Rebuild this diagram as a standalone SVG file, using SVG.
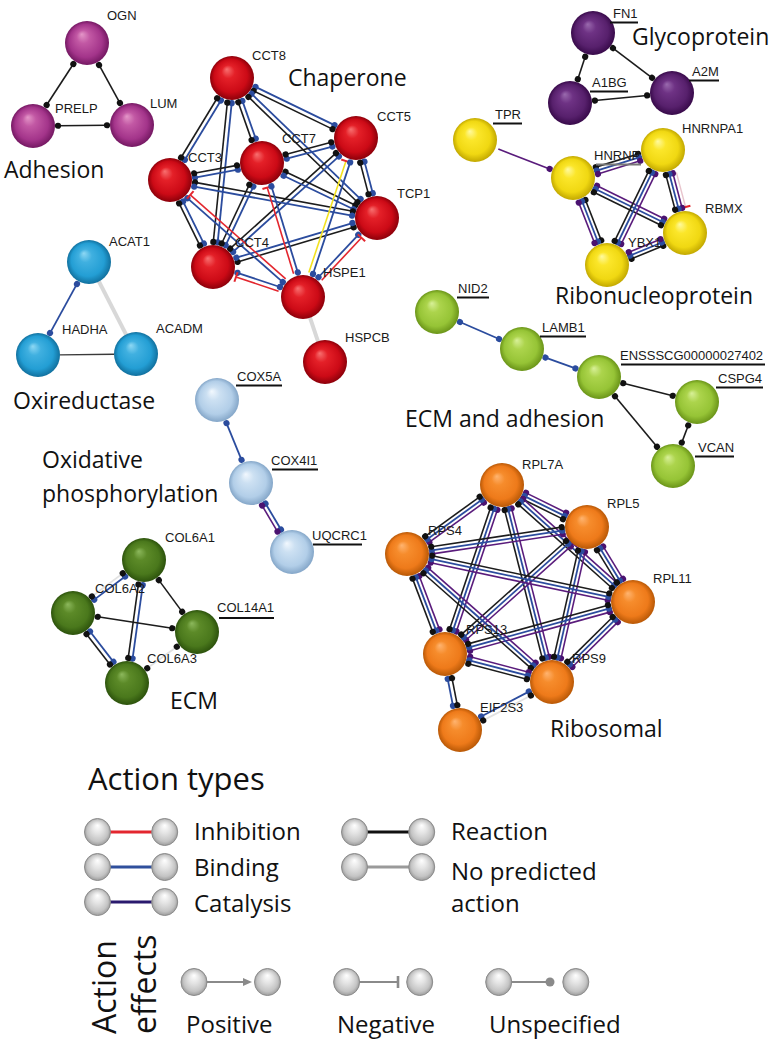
<svg xmlns="http://www.w3.org/2000/svg" width="780" height="1046" viewBox="0 0 780 1046">
<defs>
<style>
.k{stroke:#1c1c1c;stroke-width:1.6;marker-start:url(#mk);marker-end:url(#mk)}
.b{stroke:#2b4c9e;stroke-width:1.8;marker-start:url(#mb);marker-end:url(#mb)}
.p{stroke:#5a1c7c;stroke-width:1.6;marker-start:url(#mp);marker-end:url(#mp)}
.r{stroke:#e3262e;stroke-width:1.6;marker-end:url(#tr)}
.y{stroke:#f2e11e;stroke-width:1.6;marker-end:url(#tr)}
.g{stroke:#d8d8d8;stroke-width:4}
.t{stroke:#3a3a3a;stroke-width:1.3}
.lg{stroke:#e2e2e2;stroke-width:1.8;marker-start:url(#mk);marker-end:url(#mk)}
.pk{stroke:#e8c4cc;stroke-width:1.4;marker-end:url(#tr)}
.ns{marker-start:none}
.lbl{font-family:"Liberation Sans",Arial,sans-serif;font-size:13px;fill:#1a1a1a}
.cl{font-family:"Open Sans","Noto Sans",sans-serif;font-size:23px;fill:#111}
.lg2{font-family:"Open Sans","Noto Sans",sans-serif;font-size:24px;fill:#111}
.ul{stroke:#111;stroke-width:2}
.mag{fill:url(#gMag)}.red{fill:url(#gRed)}.pur{fill:url(#gPur)}.yel{fill:url(#gYel)}
.cya{fill:url(#gCya)}.lgr{fill:url(#gLgr)}.lbl2{fill:url(#gLbl)}.dgr{fill:url(#gDgr)}.ora{fill:url(#gOra)}
.gb{fill:url(#gGray);stroke:#8c8c8c;stroke-width:1}
</style>
<marker id="mk" viewBox="-4 -4 8 8" markerWidth="8" markerHeight="8" markerUnits="userSpaceOnUse"><circle r="3.1" fill="#111"/></marker>
<marker id="mb" viewBox="-4 -4 8 8" markerWidth="8" markerHeight="8" markerUnits="userSpaceOnUse"><circle r="3.1" fill="#2b4c9e"/></marker>
<marker id="mp" viewBox="-4 -4 8 8" markerWidth="8" markerHeight="8" markerUnits="userSpaceOnUse"><circle r="3.1" fill="#4a1270"/></marker>
<marker id="tr" viewBox="-2 -6 4 12" markerWidth="4" markerHeight="12" markerUnits="userSpaceOnUse" orient="auto"><line x1="0" y1="-5" x2="0" y2="5" stroke="#e3262e" stroke-width="2"/></marker>
<radialGradient id="gMag" cx="0.5" cy="0.5" r="0.5" fx="0.38" fy="0.3"><stop offset="0" stop-color="#e496c8"/><stop offset="0.3" stop-color="#c258a4"/><stop offset="0.75" stop-color="#a3348a"/><stop offset="1" stop-color="#741862"/></radialGradient>
<radialGradient id="gRed" cx="0.5" cy="0.5" r="0.5" fx="0.38" fy="0.3"><stop offset="0" stop-color="#f87070"/><stop offset="0.3" stop-color="#e42028"/><stop offset="0.75" stop-color="#cc0a16"/><stop offset="1" stop-color="#8c000a"/></radialGradient>
<radialGradient id="gPur" cx="0.5" cy="0.5" r="0.5" fx="0.38" fy="0.3"><stop offset="0" stop-color="#9a6aae"/><stop offset="0.3" stop-color="#6e3284"/><stop offset="0.75" stop-color="#57206c"/><stop offset="1" stop-color="#380a4a"/></radialGradient>
<radialGradient id="gYel" cx="0.5" cy="0.5" r="0.5" fx="0.38" fy="0.3"><stop offset="0" stop-color="#fffaa0"/><stop offset="0.3" stop-color="#fbe62a"/><stop offset="0.75" stop-color="#f0d812"/><stop offset="1" stop-color="#c2a800"/></radialGradient>
<radialGradient id="gCya" cx="0.5" cy="0.5" r="0.5" fx="0.38" fy="0.3"><stop offset="0" stop-color="#8ed8f4"/><stop offset="0.3" stop-color="#40b0e0"/><stop offset="0.75" stop-color="#239ed4"/><stop offset="1" stop-color="#11709e"/></radialGradient>
<radialGradient id="gLgr" cx="0.5" cy="0.5" r="0.5" fx="0.38" fy="0.3"><stop offset="0" stop-color="#d8f098"/><stop offset="0.3" stop-color="#acd44c"/><stop offset="0.75" stop-color="#96c436"/><stop offset="1" stop-color="#6a9418"/></radialGradient>
<radialGradient id="gLbl" cx="0.5" cy="0.5" r="0.5" fx="0.38" fy="0.3"><stop offset="0" stop-color="#f2f8fe"/><stop offset="0.3" stop-color="#cce0f2"/><stop offset="0.75" stop-color="#b2cee8"/><stop offset="1" stop-color="#84a6c8"/></radialGradient>
<radialGradient id="gDgr" cx="0.5" cy="0.5" r="0.5" fx="0.38" fy="0.3"><stop offset="0" stop-color="#8cb85c"/><stop offset="0.3" stop-color="#5c8a28"/><stop offset="0.75" stop-color="#4a781c"/><stop offset="1" stop-color="#2c520c"/></radialGradient>
<radialGradient id="gOra" cx="0.5" cy="0.5" r="0.5" fx="0.38" fy="0.3"><stop offset="0" stop-color="#ffb470"/><stop offset="0.3" stop-color="#f68c2c"/><stop offset="0.75" stop-color="#ee7a1a"/><stop offset="1" stop-color="#b85806"/></radialGradient>
<radialGradient id="gGray" cx="0.5" cy="0.5" r="0.5" fx="0.5" fy="0.25"><stop offset="0" stop-color="#ffffff"/><stop offset="0.4" stop-color="#e4e4e4"/><stop offset="0.8" stop-color="#c4c4c4"/><stop offset="1" stop-color="#9c9c9c"/></radialGradient>
</defs>
<rect width="780" height="1046" fill="#ffffff"/>

<g id="connectors" fill="none">
<!-- Adhesion -->
<g transform="translate(87 43) rotate(123.05)"><line class="k" x1="25" y1="0" x2="74" y2="0"/></g>
<g transform="translate(87 43) rotate(61.24)"><line class="k" x1="25" y1="0" x2="68.5" y2="0"/></g>
<g transform="translate(33 126) rotate(-0.58)"><line class="k" x1="25" y1="0" x2="74" y2="0"/></g>
<!-- Glycoprotein -->
<g transform="translate(593 33) rotate(108.19)"><line class="k" x1="25" y1="0" x2="48.7" y2="0"/></g>
<g transform="translate(593 33) rotate(37.22)"><line class="k" x1="25" y1="0" x2="74.2" y2="0"/></g>
<g transform="translate(570 103) rotate(-5.6)"><line class="k" x1="25" y1="0" x2="77.5" y2="0"/></g>
<!-- Oxireductase -->
<g transform="translate(89 262) rotate(118.74)"><line class="b" x1="25" y1="0" x2="81.1" y2="0"/></g>
<g transform="translate(89 262) rotate(62.94)"><line class="g" x1="20" y1="0" x2="83.3" y2="0"/></g>
<g transform="translate(38 355) rotate(-0.58)"><line class="t" x1="22" y1="0" x2="76" y2="0"/></g>
<!-- ECM and adhesion -->
<g transform="translate(437 312) rotate(23.52)"><line class="b" x1="25" y1="0" x2="67.7" y2="0"/></g>
<g transform="translate(522 349) rotate(19.98)"><line class="b" x1="25" y1="0" x2="56.9" y2="0"/></g>
<g transform="translate(599 377) rotate(14.31)"><line class="k" x1="25" y1="0" x2="76.1" y2="0"/></g>
<g transform="translate(599 377) rotate(50.26)"><line class="k" x1="25" y1="0" x2="90.7" y2="0"/></g>
<g transform="translate(697 402) rotate(110.56)"><line class="k" x1="25" y1="0" x2="43.4" y2="0"/></g>
<!-- Oxidative phosphorylation -->
<g transform="translate(217 400) rotate(67.72)"><line class="b" x1="25" y1="0" x2="64.7" y2="0"/></g>
<g transform="translate(251 483) rotate(59.28)"><line class="b" x1="25" y1="-2" x2="55.3" y2="-2"/><line class="p" x1="25" y1="2" x2="55.3" y2="2"/></g>
<!-- ECM -->
<g transform="translate(144 560) rotate(143.26)"><line class="b" x1="25" y1="-2" x2="63.6" y2="-2"/><line class="lg" x1="25" y1="2" x2="63.6" y2="2"/></g>
<g transform="translate(144 560) rotate(53.64)"><line class="k" x1="25" y1="0" x2="64.4" y2="0"/></g>
<g transform="translate(144 560) rotate(97.87)"><line class="b" x1="25" y1="-2.2" x2="99.2" y2="-2.2"/><line class="k" x1="25" y1="2.2" x2="99.2" y2="2.2"/></g>
<g transform="translate(73 613) rotate(8.71)"><line class="k" x1="25" y1="0" x2="100.4" y2="0"/></g>
<g transform="translate(73 613) rotate(52.35)"><line class="b" x1="25" y1="-2.2" x2="63.4" y2="-2.2"/><line class="k" x1="25" y1="2.2" x2="63.4" y2="2.2"/></g>
<g transform="translate(197 632) rotate(143.93)"><line class="lg" x1="25" y1="0" x2="61.6" y2="0"/></g>
<!-- Ribonucleoprotein -->
<g transform="translate(475 140) rotate(21.19)"><line class="p ns" x1="25" y1="0" x2="80.1" y2="0"/></g>
<g transform="translate(573 178) rotate(-17.28)"><line class="k" x1="25" y1="-3.6" x2="69.3" y2="-3.6"/><line class="b" x1="25" y1="0" x2="69.3" y2="0"/><line class="p" x1="25" y1="3.6" x2="69.3" y2="3.6"/></g>
<g transform="translate(573 178) rotate(26.16)"><line class="p" x1="25" y1="-3.6" x2="99.8" y2="-3.6"/><line class="b" x1="25" y1="0" x2="99.8" y2="0"/><line class="k" x1="25" y1="3.6" x2="99.8" y2="3.6"/></g>
<g transform="translate(573 178) rotate(68.66)"><line class="k" x1="25" y1="-3.6" x2="68.4" y2="-3.6"/><line class="b" x1="25" y1="0" x2="68.4" y2="0"/><line class="p" x1="25" y1="3.6" x2="68.4" y2="3.6"/></g>
<g transform="translate(663 150) rotate(75.15)"><line class="pk" x1="25" y1="-7.2" x2="60.9" y2="-7.2"/><line class="p" x1="25" y1="-3.6" x2="60.9" y2="-3.6"/><line class="b" x1="25" y1="0" x2="60.9" y2="0"/><line class="k" x1="25" y1="3.6" x2="60.9" y2="3.6"/></g>
<g transform="translate(663 150) rotate(115.97)"><line class="p" x1="25" y1="-3.6" x2="102.9" y2="-3.6"/><line class="b" x1="25" y1="0" x2="102.9" y2="0"/><line class="k" x1="25" y1="3.6" x2="102.9" y2="3.6"/></g>
<g transform="translate(685 233) rotate(157.69)"><line class="k" x1="25" y1="-3.6" x2="59.3" y2="-3.6"/><line class="b" x1="25" y1="0" x2="59.3" y2="0"/><line class="p" x1="25" y1="3.6" x2="59.3" y2="3.6"/></g>
<!-- Chaperone -->
<g transform="translate(232 78) rotate(25.82)"><line class="b" x1="25" y1="-2.2" x2="112.8" y2="-2.2"/><line class="k" x1="25" y1="2.2" x2="112.8" y2="2.2"/></g>
<g transform="translate(232 78) rotate(70.56)"><line class="b" x1="25" y1="-2.2" x2="65.1" y2="-2.2"/><line class="k" x1="25" y1="2.2" x2="65.1" y2="2.2"/></g>
<g transform="translate(232 78) rotate(121.29)"><line class="b" x1="25" y1="-2.2" x2="94.4" y2="-2.2"/><line class="k" x1="25" y1="2.2" x2="94.4" y2="2.2"/></g>
<g transform="translate(232 78) rotate(43.99)"><line class="b" x1="25" y1="-2.2" x2="176.6" y2="-2.2"/><line class="k" x1="25" y1="2.2" x2="176.6" y2="2.2"/></g>
<g transform="translate(232 78) rotate(95.74)"><line class="b" x1="25" y1="-2.2" x2="165" y2="-2.2"/><line class="k" x1="25" y1="2.2" x2="165" y2="2.2"/></g>
<g transform="translate(356 138) rotate(165.11)"><line class="b" x1="25" y1="-2.2" x2="72.3" y2="-2.2"/><line class="k" x1="25" y1="2.2" x2="72.3" y2="2.2"/></g>
<g transform="translate(356 138) rotate(75.29)"><line class="b" x1="25" y1="-2.2" x2="57.7" y2="-2.2"/><line class="k" x1="25" y1="2.2" x2="57.7" y2="2.2"/></g>
<g transform="translate(356 138) rotate(137.94)"><line class="b" x1="25" y1="-2.2" x2="167.6" y2="-2.2"/><line class="k" x1="25" y1="2.2" x2="167.6" y2="2.2"/></g>
<g transform="translate(262 163) rotate(169.53)"><line class="b" x1="25" y1="-2.2" x2="68.6" y2="-2.2"/><line class="k" x1="25" y1="2.2" x2="68.6" y2="2.2"/></g>
<g transform="translate(262 163) rotate(25.56)"><line class="k" x1="25" y1="-2.2" x2="102.5" y2="-2.2"/><line class="b" x1="25" y1="2.2" x2="102.5" y2="2.2"/></g>
<g transform="translate(262 163) rotate(115.23)"><line class="b" x1="25" y1="-2.2" x2="90" y2="-2.2"/><line class="k" x1="25" y1="2.2" x2="90" y2="2.2"/></g>
<g transform="translate(170 180) rotate(10.40)"><line class="k" x1="25" y1="-2.2" x2="185.5" y2="-2.2"/><line class="b" x1="25" y1="2.2" x2="185.5" y2="2.2"/></g>
<g transform="translate(170 180) rotate(63.70)"><line class="b" x1="25" y1="-2.2" x2="72" y2="-2.2"/><line class="k" x1="25" y1="2.2" x2="72" y2="2.2"/></g>
<g transform="translate(377 218) rotate(163.37)"><line class="k" x1="25" y1="-2.2" x2="146.2" y2="-2.2"/><line class="b" x1="25" y1="2.2" x2="146.2" y2="2.2"/></g>
<g transform="translate(303 297) rotate(-138.66)"><line class="b" x1="25" y1="-2.2" x2="152.1" y2="-2.2"/><line class="r" x1="25" y1="2.2" x2="152.1" y2="2.2"/></g>
<g transform="translate(303 297) rotate(-161.57)"><line class="b" x1="25" y1="2.2" x2="69.9" y2="2.2"/><line class="r" x1="25" y1="-2.2" x2="69.9" y2="-2.2"/></g>
<g transform="translate(303 297) rotate(-107.01)"><line class="r" x1="25" y1="-2.2" x2="115.1" y2="-2.2"/><line class="b" x1="25" y1="2.2" x2="115.1" y2="2.2"/></g>
<g transform="translate(303 297) rotate(-71.57)"><line class="y" x1="25" y1="-2.2" x2="142.6" y2="-2.2"/><line class="b" x1="25" y1="2.2" x2="142.6" y2="2.2"/></g>
<g transform="translate(303 297) rotate(-46.88)"><line class="b" x1="25" y1="-2.2" x2="83.2" y2="-2.2"/><line class="r" x1="25" y1="2.2" x2="83.2" y2="2.2"/></g>
<g transform="translate(303 297) rotate(71.30)"><line class="g" x1="20" y1="0" x2="48.6" y2="0"/></g>
<!-- Ribosomal -->
<g transform="translate(502 485) rotate(26.29)"><line class="p" x1="25" y1="-3.6" x2="69.8" y2="-3.6"/><line class="b" x1="25" y1="0" x2="69.8" y2="0"/><line class="k" x1="25" y1="3.6" x2="69.8" y2="3.6"/></g>
<g transform="translate(502 485) rotate(41.77)"><line class="p" x1="25" y1="-3.6" x2="150.6" y2="-3.6"/><line class="b" x1="25" y1="0" x2="150.6" y2="0"/><line class="k" x1="25" y1="3.6" x2="150.6" y2="3.6"/></g>
<g transform="translate(502 485) rotate(144.01)"><line class="p" x1="25" y1="-3.6" x2="92.4" y2="-3.6"/><line class="b" x1="25" y1="0" x2="92.4" y2="0"/><line class="k" x1="25" y1="3.6" x2="92.4" y2="3.6"/></g>
<g transform="translate(502 485) rotate(108.64)"><line class="p" x1="25" y1="-3.6" x2="153.4" y2="-3.6"/><line class="b" x1="25" y1="0" x2="153.4" y2="0"/><line class="k" x1="25" y1="3.6" x2="153.4" y2="3.6"/></g>
<g transform="translate(502 485) rotate(75.76)"><line class="p" x1="25" y1="-3.6" x2="178.2" y2="-3.6"/><line class="b" x1="25" y1="0" x2="178.2" y2="0"/><line class="k" x1="25" y1="3.6" x2="178.2" y2="3.6"/></g>
<g transform="translate(587 527) rotate(58.48)"><line class="p" x1="25" y1="-3.6" x2="63" y2="-3.6"/><line class="b" x1="25" y1="0" x2="63" y2="0"/><line class="k" x1="25" y1="3.6" x2="63" y2="3.6"/></g>
<g transform="translate(587 527) rotate(171.47)"><line class="p" x1="25" y1="-3.6" x2="157" y2="-3.6"/><line class="b" x1="25" y1="0" x2="157" y2="0"/><line class="k" x1="25" y1="3.6" x2="157" y2="3.6"/></g>
<g transform="translate(587 527) rotate(138.19)"><line class="p" x1="25" y1="-3.6" x2="165.5" y2="-3.6"/><line class="b" x1="25" y1="0" x2="165.5" y2="0"/><line class="k" x1="25" y1="3.6" x2="165.5" y2="3.6"/></g>
<g transform="translate(587 527) rotate(102.72)"><line class="p" x1="25" y1="-3.6" x2="133.9" y2="-3.6"/><line class="b" x1="25" y1="0" x2="133.9" y2="0"/><line class="k" x1="25" y1="3.6" x2="133.9" y2="3.6"/></g>
<g transform="translate(633 602) rotate(-168.01)"><line class="p" x1="25" y1="-3.6" x2="206" y2="-3.6"/><line class="b" x1="25" y1="0" x2="206" y2="0"/><line class="k" x1="25" y1="3.6" x2="206" y2="3.6"/></g>
<g transform="translate(633 602) rotate(164.54)"><line class="p" x1="25" y1="-3.6" x2="170.1" y2="-3.6"/><line class="b" x1="25" y1="0" x2="170.1" y2="0"/><line class="k" x1="25" y1="3.6" x2="170.1" y2="3.6"/></g>
<g transform="translate(633 602) rotate(135.35)"><line class="p" x1="25" y1="-3.6" x2="88.8" y2="-3.6"/><line class="b" x1="25" y1="0" x2="88.8" y2="0"/><line class="k" x1="25" y1="3.6" x2="88.8" y2="3.6"/></g>
<g transform="translate(407 554) rotate(69.19)"><line class="p" x1="25" y1="-3.6" x2="82" y2="-3.6"/><line class="b" x1="25" y1="0" x2="82" y2="0"/><line class="k" x1="25" y1="3.6" x2="82" y2="3.6"/></g>
<g transform="translate(407 554) rotate(41.44)"><line class="p" x1="25" y1="-3.6" x2="168.4" y2="-3.6"/><line class="b" x1="25" y1="0" x2="168.4" y2="0"/><line class="k" x1="25" y1="3.6" x2="168.4" y2="3.6"/></g>
<g transform="translate(445 654) rotate(14.67)"><line class="p" x1="25" y1="-3.6" x2="85.6" y2="-3.6"/><line class="b" x1="25" y1="0" x2="85.6" y2="0"/><line class="k" x1="25" y1="3.6" x2="85.6" y2="3.6"/></g>
<g transform="translate(460 730) rotate(-101.16)"><line class="b" x1="25" y1="-2.2" x2="52.5" y2="-2.2"/><line class="k" x1="25" y1="2.2" x2="52.5" y2="2.2"/></g>
<g transform="translate(460 730) rotate(-27.55)"><line class="b" x1="25" y1="-2.2" x2="78.8" y2="-2.2"/><line class="lg" x1="25" y1="2.2" x2="78.8" y2="2.2"/></g>
</g>

<!-- Adhesion -->
<g id="n-OGN"><circle class="mag" cx="87" cy="43" r="22"/><text class="lbl" x="107" y="20">OGN</text></g>
<g id="n-PRELP"><circle class="mag" cx="33" cy="126" r="22"/><text class="lbl" x="55" y="113">PRELP</text></g>
<g id="n-LUM"><circle class="mag" cx="132" cy="125" r="22"/><text class="lbl" x="150" y="108">LUM</text></g>
<text class="cl" x="4" y="178">Adhesion</text>

<!-- Chaperone -->
<g id="n-CCT8"><circle class="red" cx="232" cy="78" r="22"/><text class="lbl" x="252" y="60">CCT8</text></g>
<g id="n-CCT5"><circle class="red" cx="356" cy="138" r="22"/><text class="lbl" x="377" y="121">CCT5</text></g>
<g id="n-CCT3"><circle class="red" cx="170" cy="180" r="22"/><text class="lbl" x="188" y="162">CCT3</text></g>
<g id="n-CCT7"><circle class="red" cx="262" cy="163" r="22"/><text class="lbl" x="282" y="143">CCT7</text></g>
<g id="n-TCP1"><circle class="red" cx="377" cy="218" r="22"/><text class="lbl" x="397" y="198">TCP1</text></g>
<g id="n-CCT4"><circle class="red" cx="213" cy="267" r="22"/><text class="lbl" x="235" y="247">CCT4</text></g>
<g id="n-HSPE1"><circle class="red" cx="303" cy="297" r="22"/><text class="lbl" x="323" y="277">HSPE1</text></g>
<g id="n-HSPCB"><circle class="red" cx="325" cy="362" r="22"/><text class="lbl" x="345" y="342">HSPCB</text></g>
<text class="cl" x="288" y="86">Chaperone</text>

<!-- Glycoprotein -->
<g id="n-FN1"><circle class="pur" cx="593" cy="33" r="22"/><text class="lbl" x="613" y="18">FN1</text><line class="ul" x1="610" y1="22.5" x2="638" y2="22.5"/></g>
<g id="n-A1BG"><circle class="pur" cx="570" cy="103" r="22"/><text class="lbl" x="592" y="87">A1BG</text><line class="ul" x1="590" y1="91.5" x2="628" y2="91.5"/></g>
<g id="n-A2M"><circle class="pur" cx="672" cy="93" r="22"/><text class="lbl" x="692" y="76">A2M</text><line class="ul" x1="689" y1="80.5" x2="719" y2="80.5"/></g>
<text class="cl" x="632" y="45">Glycoprotein</text>

<!-- Ribonucleoprotein -->
<g id="n-TPR"><circle class="yel" cx="475" cy="140" r="22"/><text class="lbl" x="495" y="119">TPR</text><line class="ul" x1="493" y1="123.5" x2="522" y2="123.5"/></g>
<g id="n-HNRNP"><circle class="yel" cx="573" cy="178" r="22"/><text class="lbl" x="594" y="160">HNRNP</text><line x1="596" y1="164.5" x2="641" y2="164.5" stroke="#777" stroke-width="2"/></g>
<g id="n-HNRNPA1"><circle class="yel" cx="663" cy="150" r="22"/><text class="lbl" x="682" y="133">HNRNPA1</text></g>
<g id="n-RBMX"><circle class="yel" cx="685" cy="233" r="22"/><text class="lbl" x="705" y="213">RBMX</text></g>
<g id="n-YBX1"><circle class="yel" cx="607" cy="265" r="22"/><text class="lbl" x="628" y="247">YBX1</text></g>
<text class="cl" x="555" y="304">Ribonucleoprotein</text>

<!-- Oxireductase -->
<g id="n-ACAT1"><circle class="cya" cx="89" cy="262" r="22"/><text class="lbl" x="109" y="246">ACAT1</text></g>
<g id="n-HADHA"><circle class="cya" cx="38" cy="355" r="22"/><text class="lbl" x="62" y="334">HADHA</text></g>
<g id="n-ACADM"><circle class="cya" cx="136" cy="354" r="22"/><text class="lbl" x="156" y="333">ACADM</text></g>
<text class="cl" x="13" y="409">Oxireductase</text>

<!-- ECM and adhesion -->
<g id="n-NID2"><circle class="lgr" cx="437" cy="312" r="22"/><text class="lbl" x="458" y="293">NID2</text><line class="ul" x1="457" y1="297.5" x2="489" y2="297.5"/></g>
<g id="n-LAMB1"><circle class="lgr" cx="522" cy="349" r="22"/><text class="lbl" x="542" y="332">LAMB1</text><line class="ul" x1="540" y1="336.5" x2="586" y2="336.5"/></g>
<g id="n-ENSSSCG00000027402"><circle class="lgr" cx="599" cy="377" r="22"/><text class="lbl" x="620" y="360">ENSSSCG00000027402</text><line class="ul" x1="621" y1="364.5" x2="765" y2="364.5"/></g>
<g id="n-CSPG4"><circle class="lgr" cx="697" cy="402" r="22"/><text class="lbl" x="718" y="383">CSPG4</text><line class="ul" x1="716" y1="387.5" x2="763" y2="387.5"/></g>
<g id="n-VCAN"><circle class="lgr" cx="673" cy="466" r="22"/><text class="lbl" x="698" y="452">VCAN</text><line class="ul" x1="695" y1="456.5" x2="734" y2="456.5"/></g>
<text class="cl" x="405" y="427">ECM and adhesion</text>

<!-- Oxidative phosphorylation -->
<g id="n-COX5A"><circle class="lbl2" cx="217" cy="400" r="22"/><text class="lbl" x="237" y="381">COX5A</text><line class="ul" x1="236" y1="385.5" x2="282" y2="385.5"/></g>
<g id="n-COX4I1"><circle class="lbl2" cx="251" cy="483" r="22"/><text class="lbl" x="271" y="465">COX4I1</text><line class="ul" x1="272" y1="469.5" x2="318" y2="469.5"/></g>
<g id="n-UQCRC1"><circle class="lbl2" cx="292" cy="552" r="22"/><text class="lbl" x="312" y="540">UQCRC1</text><line class="ul" x1="313" y1="544.5" x2="362" y2="544.5"/></g>
<text class="cl" x="42" y="468">Oxidative</text>
<text class="cl" x="42" y="502">phosphorylation</text>

<!-- ECM -->
<g id="n-COL6A1"><circle class="dgr" cx="144" cy="560" r="22"/><text class="lbl" x="165" y="542">COL6A1</text></g>
<g id="n-COL6A2"><circle class="dgr" cx="73" cy="613" r="22"/><text class="lbl" x="95" y="593">COL6A2</text></g>
<g id="n-COL14A1"><circle class="dgr" cx="197" cy="632" r="22"/><text class="lbl" x="217" y="612">COL14A1</text><line class="ul" x1="219" y1="618" x2="274" y2="618"/></g>
<g id="n-COL6A3"><circle class="dgr" cx="127" cy="683" r="22"/><text class="lbl" x="147" y="663">COL6A3</text></g>
<text class="cl" x="170" y="709">ECM</text>

<!-- Ribosomal -->
<g id="n-RPL7A"><circle class="ora" cx="502" cy="485" r="22"/><text class="lbl" x="522" y="469">RPL7A</text></g>
<g id="n-RPL5"><circle class="ora" cx="587" cy="527" r="22"/><text class="lbl" x="607" y="508">RPL5</text></g>
<g id="n-RPL11"><circle class="ora" cx="633" cy="602" r="22"/><text class="lbl" x="653" y="583">RPL11</text></g>
<g id="n-RPS4"><circle class="ora" cx="407" cy="554" r="22"/><text class="lbl" x="428" y="535">RPS4</text></g>
<g id="n-RPS13"><circle class="ora" cx="445" cy="654" r="22"/><text class="lbl" x="466" y="634">RPS13</text></g>
<g id="n-RPS9"><circle class="ora" cx="552" cy="682" r="22"/><text class="lbl" x="572" y="663">RPS9</text></g>
<g id="n-EIF2S3"><circle class="ora" cx="460" cy="730" r="22"/><text class="lbl" x="480" y="712">EIF2S3</text></g>
<text class="cl" x="550" y="737">Ribosomal</text>

<!-- Legend -->
<g id="legend">
<text x="88" y="790" font-family="'Open Sans','Noto Sans',sans-serif" font-size="31" fill="#111">Action types</text>
<line x1="108" y1="832" x2="154" y2="832" stroke="#e3262e" stroke-width="2.8"/>
<ellipse class="gb" cx="97.5" cy="832" rx="13" ry="13.5"/><ellipse class="gb" cx="164.7" cy="832" rx="13" ry="13.5"/>
<line x1="108" y1="867" x2="154" y2="867" stroke="#2f4f9c" stroke-width="2.8"/>
<ellipse class="gb" cx="97.5" cy="867" rx="13" ry="13.5"/><ellipse class="gb" cx="164.7" cy="867" rx="13" ry="13.5"/>
<line x1="108" y1="902" x2="154" y2="902" stroke="#2a1a6e" stroke-width="2.8"/>
<ellipse class="gb" cx="97.5" cy="902" rx="13" ry="13.5"/><ellipse class="gb" cx="164.7" cy="902" rx="13" ry="13.5"/>
<line x1="365" y1="832" x2="411" y2="832" stroke="#111" stroke-width="2.8"/>
<ellipse class="gb" cx="354.5" cy="832" rx="13" ry="13.5"/><ellipse class="gb" cx="421.7" cy="832" rx="13" ry="13.5"/>
<line x1="365" y1="867" x2="411" y2="867" stroke="#9a9a9a" stroke-width="2.8"/>
<ellipse class="gb" cx="354.5" cy="867" rx="13" ry="13.5"/><ellipse class="gb" cx="421.7" cy="867" rx="13" ry="13.5"/>
<text class="lg2" x="194" y="840">Inhibition</text>
<text class="lg2" x="194" y="876">Binding</text>
<text class="lg2" x="194" y="912">Catalysis</text>
<text class="lg2" x="451" y="840">Reaction</text>
<text class="lg2" x="451" y="880">No predicted</text>
<text class="lg2" x="451" y="912">action</text>
<text transform="translate(116 1034) rotate(-90)" font-family="'Open Sans','Noto Sans',sans-serif" font-size="32" fill="#111">Action</text>
<text transform="translate(156 1034) rotate(-90)" font-family="'Open Sans','Noto Sans',sans-serif" font-size="32" fill="#111">effects</text>
<line x1="205" y1="982" x2="244" y2="982" stroke="#8a8a8a" stroke-width="2.2"/>
<polygon points="243,978 252,982 243,986" fill="#8a8a8a"/>
<ellipse class="gb" cx="194" cy="982" rx="13" ry="13.5"/><ellipse class="gb" cx="267.5" cy="982" rx="13" ry="13.5"/>
<line x1="358" y1="982" x2="398" y2="982" stroke="#8a8a8a" stroke-width="2.2"/>
<line x1="398" y1="976" x2="398" y2="988" stroke="#8a8a8a" stroke-width="2.6"/>
<ellipse class="gb" cx="346.6" cy="982" rx="13" ry="13.5"/><ellipse class="gb" cx="419.7" cy="982" rx="13" ry="13.5"/>
<line x1="510" y1="982" x2="548" y2="982" stroke="#8a8a8a" stroke-width="2.2"/>
<circle cx="550" cy="982" r="4.5" fill="#8a8a8a"/>
<ellipse class="gb" cx="498.7" cy="982" rx="13" ry="13.5"/><ellipse class="gb" cx="575.8" cy="982" rx="13" ry="13.5"/>
<text class="lg2" x="186" y="1033">Positive</text>
<text class="lg2" x="337" y="1033">Negative</text>
<text class="lg2" x="489" y="1033">Unspecified</text>
</g>
</svg>
